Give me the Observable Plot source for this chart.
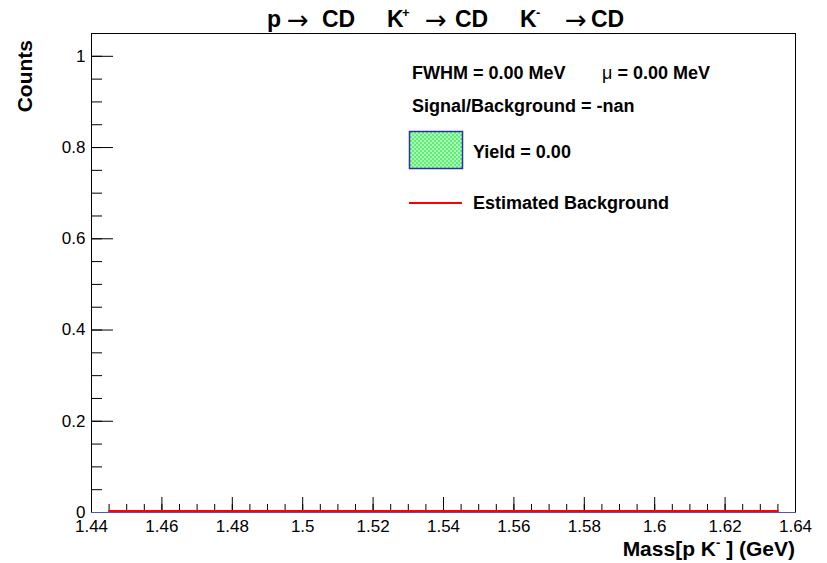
<!DOCTYPE html>
<html>
<head>
<meta charset="utf-8">
<script src="https://cdn.jsdelivr.net/npm/d3@7"></script>
<script src="https://cdn.jsdelivr.net/npm/@observablehq/plot@0.6"></script>
<style>
  body { margin: 0; background: #fff; }
  svg { display: block; }
</style>
</head>
<body>
<div id="chart"></div>
<script>
// Invariant-mass histogram (all bins empty) and the estimated background curve
const histMass = [1.44, 1.64];
const histCounts = [0, 0];
const bkgMass = [1.445, 1.635];
const bkgCounts = [0, 0];

// Axis ticks and their labels
const xMajorTicks = [1.44, 1.46, 1.48, 1.5, 1.52, 1.54, 1.56, 1.58, 1.6, 1.62, 1.64];
const xTickLabels = ["1.44", "1.46", "1.48", "1.5", "1.52", "1.54", "1.56", "1.58", "1.6", "1.62", "1.64"];
const yMajorTicks = [0, 0.2, 0.4, 0.6, 0.8, 1];
const yTickLabels = ["0", "0.2", "0.4", "0.6", "0.8", "1"];

// Fit summary shown in the legend
const fwhmMeV = 0.00;
const muMeV = 0.00;
const yieldValue = 0.00;
const signalToBackground = "-nan";

const FONT = '"Liberation Sans", Arial, Helvetica, sans-serif';
const ARROW_FONT = '"DejaVu Sans", sans-serif';

// minor ticks: 4 divisions per major step on both axes
const xMinor = d3.range(1, 40).map(i => +(1.44 + i * 0.005).toFixed(3));
const yMinor = d3.range(0, 21).map(i => +(i * 0.05).toFixed(2));

function annotations(index, scales, values, dims) {
  const g = d3.create("svg:g")
    .attr("font-family", FONT)
    .attr("text-anchor", "start")
    .attr("fill", "black");

  // checkered fill used for the signal swatch
  const pat = g.append("defs").append("pattern")
    .attr("id", "yieldFill")
    .attr("patternUnits", "userSpaceOnUse")
    .attr("width", 4).attr("height", 4);
  pat.append("rect").attr("width", 4).attr("height", 4).attr("fill", "#5fec78");
  pat.append("rect").attr("width", 2).attr("height", 2).attr("fill", "#a8ffb4");
  pat.append("rect").attr("x", 2).attr("y", 2).attr("width", 2).attr("height", 2).attr("fill", "#a8ffb4");

  // title: bold particle names, light arrows, small superscript charges
  const title = g.append("g").attr("font-size", 23).attr("font-weight", "bold");
  const word = (x, t) => title.append("text").attr("x", x).attr("y", 27).text(t);
  const arrow = x => title.append("text").attr("x", x).attr("y", 29)
    .attr("font-family", ARROW_FONT).attr("font-weight", "normal").attr("font-size", 26)
    .text("\u2192");
  const sup = (x, t) => title.append("text").attr("x", x).attr("y", 17)
    .attr("font-size", 13).text(t);
  word(267, "p"); arrow(287); word(322, "CD");
  word(387, "K"); sup(402, "+"); arrow(425); word(455, "CD");
  word(520, "K"); sup(536, "-"); arrow(565); word(591, "CD");

  // y-axis title
  g.append("text")
    .attr("transform", "translate(32,40) rotate(-90)")
    .attr("text-anchor", "end")
    .attr("font-size", 21)
    .attr("font-weight", "bold")
    .text("Counts");

  // x-axis title
  const xt = g.append("text")
    .attr("x", 795).attr("y", 556)
    .attr("text-anchor", "end")
    .attr("font-size", 21)
    .attr("font-weight", "bold")
    .style("white-space", "pre");
  xt.append("tspan").text("Mass[p K");
  xt.append("tspan").attr("dy", -9).attr("font-size", 13).text("-");
  xt.append("tspan").attr("dy", 9).text(" ] (GeV)");

  // legend
  const lg = g.append("g").attr("font-size", 18).attr("font-weight", "bold");
  lg.append("text").attr("x", 412).attr("y", 79)
    .text(`FWHM = ${fwhmMeV.toFixed(2)} MeV`);
  const mu = lg.append("text").attr("x", 602).attr("y", 79).style("white-space", "pre");
  mu.append("tspan").attr("font-weight", "normal").text("\u03bc");
  mu.append("tspan").text(` = ${muMeV.toFixed(2)} MeV`);
  lg.append("text").attr("x", 412).attr("y", 112)
    .text(`Signal/Background = ${signalToBackground}`);

  lg.append("rect")
    .attr("x", 409.5).attr("y", 131.5).attr("width", 53).attr("height", 37)
    .attr("fill", "url(#yieldFill)")
    .attr("stroke", "#2e2ea8").attr("stroke-width", 1.5);
  lg.append("text").attr("x", 473).attr("y", 158)
    .text(`Yield = ${yieldValue.toFixed(2)}`);

  lg.append("line")
    .attr("x1", 409).attr("x2", 462).attr("y1", 203).attr("y2", 203)
    .attr("stroke", "#ff0000").attr("stroke-width", 2);
  lg.append("text").attr("x", 473).attr("y", 209)
    .text("Estimated Background");

  return g.node();
}

const chart = Plot.plot({
  width: 827,
  height: 563,
  marginLeft: 91,
  marginRight: 32,
  marginTop: 33,
  marginBottom: 51,
  x: {domain: [1.44, 1.64], axis: null},
  y: {domain: [0, 1.05], axis: null},
  style: {fontFamily: FONT, background: "white", color: "black"},
  marks: [
    Plot.frame({stroke: "black", strokeWidth: 1}),
    // inward ticks along the bottom edge
    Plot.ruleX(xMinor, {x: d => d, y1: 0, y2: 0, insetTop: -8, stroke: "black"}),
    Plot.ruleX(xMajorTicks, {x: d => d, y1: 0, y2: 0, insetTop: -15, stroke: "black"}),
    // inward ticks along the left edge
    Plot.ruleY(yMinor, {y: d => d, x1: 1.44, x2: 1.44, insetRight: -11, stroke: "black"}),
    Plot.ruleY(yMajorTicks, {y: d => d, x1: 1.44, x2: 1.44, insetRight: -22, stroke: "black"}),
    // tick labels
    Plot.text(xMajorTicks, {
      x: d => d, text: (d, i) => xTickLabels[i],
      frameAnchor: "bottom", dy: 14, fontSize: 17, lineAnchor: "middle", fill: "black"
    }),
    Plot.text(yMajorTicks, {
      y: d => d, text: (d, i) => yTickLabels[i],
      frameAnchor: "left", dx: -6, textAnchor: "end", fontSize: 17, lineAnchor: "middle", fill: "black"
    }),
    // histogram
    Plot.line(histCounts, {x: histMass, y: histCounts, stroke: "#4f55c6", strokeWidth: 1, curve: "step"}),
    // background estimate
    Plot.line(bkgCounts, {x: bkgMass, y: bkgCounts, stroke: "#ff0000", strokeWidth: 2, dy: -1.5}),
    annotations
  ]
});

document.getElementById("chart").appendChild(chart);
</script>
</body>
</html>
